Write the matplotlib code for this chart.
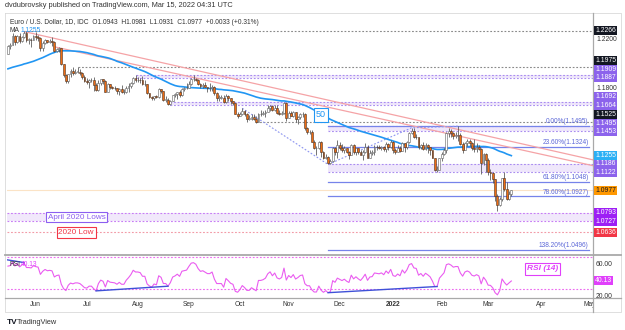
import numpy as np
import pandas as pd
import matplotlib
matplotlib.use("Agg")
import matplotlib.pyplot as plt

plt.rcParams['font.family'] = ['Liberation Sans', 'DejaVu Sans']

# daily closes 1 Mar - 13 May 2021, only used to warm up the MA(50) and RSI(14)
warmup_close = [
    1.2050, 1.2090, 1.2065, 1.1965, 1.1915,
    1.1845, 1.1900, 1.1930, 1.1985, 1.1950,
    1.1930, 1.1900, 1.1975, 1.1915, 1.1905,
    1.1935, 1.1850, 1.1815, 1.1765, 1.1795,
    1.1765, 1.1715, 1.1730, 1.1775, 1.1760,
    1.1815, 1.1875, 1.1870, 1.1915, 1.1900,
    1.1910, 1.1945, 1.1980, 1.1965, 1.1985,
    1.2035, 1.2035, 1.2035, 1.2015, 1.2095,
    1.2080, 1.2090, 1.2125, 1.2125, 1.2020,
    1.2060, 1.2015, 1.2005, 1.2065, 1.2165,
    1.2150, 1.2225, 1.2075, 1.2080,
]

# visible daily candles, 14 May 2021 - 15 Mar 2022 (one row per week)
high = [
    1.2155,
    1.2167, 1.2245, 1.2232, 1.2236, 1.2246,
    1.2226, 1.2266, 1.2262, 1.2208, 1.2207,
    1.2230, 1.2254, 1.2230, 1.2215, 1.2185,
    1.2197, 1.2192, 1.2199, 1.2218, 1.2180,
    1.2131, 1.2136, 1.2131, 1.2000, 1.1920,
    1.1920, 1.1955, 1.1973, 1.1954, 1.1975,
    1.1960, 1.1930, 1.1907, 1.1885, 1.1875,
    1.1882, 1.1895, 1.1844, 1.1868, 1.1880,
    1.1880, 1.1872, 1.1848, 1.1839, 1.1823,
    1.1823, 1.1806, 1.1806, 1.1829, 1.1794,
    1.1818, 1.1842, 1.1850, 1.1896, 1.1909,
    1.1893, 1.1882, 1.1900, 1.1865, 1.1838,
    1.1767, 1.1743, 1.1740, 1.1751, 1.1800,
    1.1797, 1.1782, 1.1743, 1.1720, 1.1705,
    1.1750, 1.1763, 1.1772, 1.1785, 1.1800,
    1.1810, 1.1846, 1.1857, 1.1884, 1.1909,
    1.1883, 1.1873, 1.1845, 1.1845, 1.1849,
    1.1815, 1.1845, 1.1830, 1.1820, 1.1775,
    1.1750, 1.1749, 1.1750, 1.1752, 1.1745,
    1.1725, 1.1700, 1.1686, 1.1612, 1.1610,
    1.1640, 1.1622, 1.1600, 1.1584, 1.1592,
    1.1594, 1.1575, 1.1600, 1.1624, 1.1620,
    1.1624, 1.1669, 1.1667, 1.1666, 1.1665,
    1.1665, 1.1625, 1.1621, 1.1692, 1.1692,
    1.1616, 1.1614, 1.1616, 1.1607, 1.1577,
    1.1598, 1.1609, 1.1598, 1.1486, 1.1464,
    1.1464, 1.1386, 1.1339, 1.1374, 1.1375,
    1.1298, 1.1273, 1.1253, 1.1230, 1.1325,
    1.1330, 1.1383, 1.1368, 1.1350, 1.1334,
    1.1319, 1.1298, 1.1353, 1.1355, 1.1320,
    1.1318, 1.1302, 1.1300, 1.1361, 1.1345,
    1.1305, 1.1303, 1.1345, 1.1340, 1.1340,
    1.1336, 1.1334, 1.1366, 1.1360, 1.1386,
    1.1377, 1.1321, 1.1346, 1.1332, 1.1365,
    1.1360, 1.1375, 1.1446, 1.1482, 1.1482,
    1.1434, 1.1410, 1.1350, 1.1370, 1.1363,
    1.1348, 1.1325, 1.1305, 1.1240, 1.1175,
    1.1241, 1.1283, 1.1315, 1.1450, 1.1483,
    1.1469, 1.1445, 1.1449, 1.1495, 1.1440,
    1.1366, 1.1368, 1.1395, 1.1388, 1.1366,
    1.1395, 1.1359, 1.1345, 1.1315, 1.1275,
    1.1277, 1.1235, 1.1152, 1.1124, 1.1070,
    1.0945, 1.0925, 1.1077, 1.1121, 1.1044,
    1.0975, 1.0981,
]
low = [
    1.2077,
    1.2118, 1.2150, 1.2152, 1.2171, 1.2164,
    1.2177, 1.2212, 1.2177, 1.2160, 1.2133,
    1.2188, 1.2195, 1.2184, 1.2104, 1.2103,
    1.2159, 1.2165, 1.2168, 1.2144, 1.2093,
    1.2092, 1.2093, 1.1990, 1.1892, 1.1847,
    1.1847, 1.1890, 1.1912, 1.1915, 1.1922,
    1.1910, 1.1880, 1.1850, 1.1836, 1.1807,
    1.1850, 1.1782, 1.1781, 1.1782, 1.1827,
    1.1835, 1.1772, 1.1774, 1.1794, 1.1796,
    1.1786, 1.1755, 1.1751, 1.1762, 1.1756,
    1.1761, 1.1771, 1.1804, 1.1840, 1.1853,
    1.1856, 1.1846, 1.1828, 1.1823, 1.1755,
    1.1725, 1.1706, 1.1705, 1.1720, 1.1725,
    1.1760, 1.1701, 1.1692, 1.1666, 1.1664,
    1.1700, 1.1735, 1.1712, 1.1735, 1.1736,
    1.1780, 1.1795, 1.1800, 1.1827, 1.1858,
    1.1862, 1.1826, 1.1804, 1.1800, 1.1810,
    1.1770, 1.1783, 1.1783, 1.1750, 1.1700,
    1.1700, 1.1712, 1.1684, 1.1685, 1.1700,
    1.1675, 1.1668, 1.1590, 1.1563, 1.1580,
    1.1582, 1.1575, 1.1529, 1.1548, 1.1546,
    1.1546, 1.1524, 1.1525, 1.1578, 1.1584,
    1.1571, 1.1608, 1.1621, 1.1620, 1.1618,
    1.1590, 1.1586, 1.1584, 1.1591, 1.1535,
    1.1560, 1.1575, 1.1570, 1.1529, 1.1513,
    1.1555, 1.1570, 1.1468, 1.1433, 1.1432,
    1.1366, 1.1310, 1.1263, 1.1309, 1.1250,
    1.1226, 1.1226, 1.1186, 1.1186, 1.1205,
    1.1260, 1.1235, 1.1302, 1.1290, 1.1275,
    1.1275, 1.1228, 1.1260, 1.1274, 1.1264,
    1.1270, 1.1259, 1.1222, 1.1280, 1.1234,
    1.1234, 1.1261, 1.1265, 1.1299, 1.1307,
    1.1300, 1.1295, 1.1288, 1.1300, 1.1320,
    1.1280, 1.1272, 1.1285, 1.1285, 1.1292,
    1.1286, 1.1314, 1.1358, 1.1435, 1.1400,
    1.1393, 1.1311, 1.1310, 1.1300, 1.1300,
    1.1275, 1.1264, 1.1235, 1.1135, 1.1121,
    1.1140, 1.1215, 1.1262, 1.1280, 1.1410,
    1.1406, 1.1395, 1.1400, 1.1373, 1.1340,
    1.1280, 1.1300, 1.1334, 1.1335, 1.1302,
    1.1289, 1.1290, 1.1303, 1.1106, 1.1185,
    1.1125, 1.1100, 1.1060, 1.1034, 1.0887,
    1.0806, 1.0850, 1.0890, 1.0975, 1.0900,
    1.0902, 1.0931,
]
close = [
    1.2145,
    1.2155, 1.2225, 1.2175, 1.2225, 1.2180,
    1.2215, 1.2250, 1.2195, 1.2195, 1.2190,
    1.2225, 1.2215, 1.2210, 1.2125, 1.2165,
    1.2190, 1.2175, 1.2180, 1.2175, 1.2105,
    1.2120, 1.2125, 1.1995, 1.1905, 1.1860,
    1.1915, 1.1940, 1.1925, 1.1935, 1.1935,
    1.1925, 1.1895, 1.1858, 1.1850, 1.1865,
    1.1865, 1.1825, 1.1790, 1.1845, 1.1875,
    1.1860, 1.1775, 1.1835, 1.1810, 1.1805,
    1.1800, 1.1780, 1.1795, 1.1770, 1.1770,
    1.1800, 1.1820, 1.1845, 1.1885, 1.1870,
    1.1870, 1.1865, 1.1835, 1.1835, 1.1760,
    1.1735, 1.1720, 1.1740, 1.1730, 1.1795,
    1.1780, 1.1710, 1.1710, 1.1675, 1.1700,
    1.1745, 1.1755, 1.1770, 1.1750, 1.1795,
    1.1800, 1.1805, 1.1840, 1.1875, 1.1880,
    1.1870, 1.1840, 1.1820, 1.1825, 1.1815,
    1.1805, 1.1805, 1.1815, 1.1765, 1.1725,
    1.1725, 1.1725, 1.1690, 1.1740, 1.1720,
    1.1695, 1.1685, 1.1595, 1.1580, 1.1595,
    1.1620, 1.1595, 1.1555, 1.1555, 1.1570,
    1.1550, 1.1530, 1.1595, 1.1595, 1.1600,
    1.1610, 1.1640, 1.1655, 1.1625, 1.1645,
    1.1605, 1.1595, 1.1605, 1.1680, 1.1560,
    1.1605, 1.1580, 1.1610, 1.1555, 1.1570,
    1.1590, 1.1595, 1.1480, 1.1445, 1.1445,
    1.1370, 1.1320, 1.1320, 1.1370, 1.1285,
    1.1235, 1.1250, 1.1200, 1.1210, 1.1320,
    1.1290, 1.1340, 1.1320, 1.1300, 1.1315,
    1.1285, 1.1265, 1.1345, 1.1290, 1.1315,
    1.1285, 1.1260, 1.1290, 1.1330, 1.1240,
    1.1280, 1.1285, 1.1330, 1.1325, 1.1320,
    1.1330, 1.1310, 1.1350, 1.1325, 1.1370,
    1.1300, 1.1290, 1.1315, 1.1295, 1.1360,
    1.1325, 1.1365, 1.1440, 1.1455, 1.1410,
    1.1405, 1.1325, 1.1345, 1.1310, 1.1345,
    1.1325, 1.1300, 1.1240, 1.1145, 1.1145,
    1.1235, 1.1270, 1.1305, 1.1440, 1.1455,
    1.1440, 1.1415, 1.1425, 1.1425, 1.1350,
    1.1305, 1.1360, 1.1375, 1.1360, 1.1320,
    1.1310, 1.1325, 1.1310, 1.1195, 1.1270,
    1.1220, 1.1125, 1.1120, 1.1065, 1.0930,
    1.0855, 1.0905, 1.1075, 1.0985, 1.0910,
    1.0945, 1.0977,
]

# drawn support / resistance zones: top, bottom, first day
zone_top = [1.1909, 1.1692, 1.1495, 1.1186]
zone_bot = [1.1887, 1.1664, 1.1453, 1.1122]
zone_start = ["2021-07-30", "2021-08-20", "2021-11-24", "2021-11-24"]
grey_levels = [1.2266, 1.1975, 1.1525]
grey_start = ["2021-05-25", "2021-06-25", "2021-10-12"]
fib_pct = [0.0, 23.6, 61.8, 78.6, 138.2]
fib_price = [1.1495, 1.1324, 1.1048, 1.0927, 1.0496]
april_2020_lows = [1.0793, 1.0727]
low_2020 = 1.0636
last_price = 1.0977

# right scale labels (value, style)
axis_labels = [
    (1.2266, "black"), (1.1975, "black"), (1.1909, "purple"), (1.1887, "purple"),
    (1.1692, "purple"), (1.1664, "purple"), (1.1525, "black"), (1.1495, "purple"),
    (1.1453, "purple"), (1.1255, "blue"), (1.1186, "purple"), (1.1122, "purple"),
    (1.0977, "orange"), (1.0793, "violet"), (1.0727, "violet"), (1.0636, "red"),
]
scale_ticks = [1.2200, 1.1800, 1.1400, 1.1000, 1.0600]
month_names = ["Jun", "Jul", "Aug", "Sep", "Oct", "Nov", "Dec", "2022",
               "Feb", "Mar", "Apr", "May"]

# ---------------------------------------------------------------- prep
dates = pd.bdate_range("2021-05-14", "2022-03-15")
n = len(close)
assert len(dates) == n == len(high) == len(low)
pos = {d.strftime("%Y-%m-%d"): i for i, d in enumerate(dates)}
x = np.arange(n)

c = np.array(close)
o = np.array([warmup_close[-1]] + close[:-1])
h = np.array(high)
l = np.array(low)

full = pd.Series(warmup_close + close)
ma50 = full.rolling(50).mean().to_numpy()[len(warmup_close):]
delta = full.diff()
gain = delta.clip(lower=0).ewm(alpha=1 / 14, adjust=False).mean()
loss = (-delta.clip(upper=0)).ewm(alpha=1 / 14, adjust=False).mean()
rsi = (100 - 100 / (1 + gain / loss)).to_numpy()[len(warmup_close):]

W, H = 625, 330
XMIN, XMAX = -0.4, 252.2
YMIN, YMAX = 1.04619, 1.24102
P_TOP, P_BOT = 13, 254
R_TOP, R_BOT = 255, 298
RMIN, RMAX = 18.75, 72.5
L_PX, R_PX = 7, 593


def frac(x0, y0, x1, y1):
    return [x0 / W, 1 - y1 / H, (x1 - x0) / W, (y1 - y0) / H]


def price_px(p):
    return P_TOP + (YMAX - p) / (YMAX - YMIN) * (P_BOT - P_TOP)


def rsi_px(v):
    return R_TOP + (RMAX - v) / (RMAX - RMIN) * (R_BOT - R_TOP)


fig = plt.figure(figsize=(W / 100, H / 100), dpi=100)
fig.patch.set_facecolor("white")

ax = fig.add_axes(frac(L_PX, P_TOP, R_PX, P_BOT))
ax2 = fig.add_axes(frac(L_PX, R_TOP, R_PX, R_BOT))
axt = fig.add_axes(frac(L_PX, R_BOT, R_PX, 312))
for a in (ax, ax2, axt):
    a.set_xlim(XMIN, XMAX)
    a.axis("off")
ax.set_ylim(YMIN, YMAX)
ax2.set_ylim(RMIN, RMAX)
axt.set_ylim(0, 1)

DOT = (0, (1.6, 1.6))

# ---------------------------------------------------------------- price pane
ax.axhline(last_price, color="#fbe3c6", lw=0.8, zorder=1)

for top, bot, start in zip(zone_top, zone_bot, zone_start):
    i0 = pos[start]
    ax.fill_between([i0, XMAX], bot, top, color="#efe7fb", lw=0, zorder=1)
    for lv in (top, bot):
        ax.plot([i0, XMAX], [lv, lv], color="#a98cf0", lw=0.8, ls=DOT, zorder=2)

ax.fill_between([XMIN, XMAX], april_2020_lows[1], april_2020_lows[0],
                color="#f1e8fb", lw=0, zorder=1)
for lv in april_2020_lows:
    ax.axhline(lv, color="#c77cf5", lw=0.8, ls=DOT, zorder=2)
ax.axhline(low_2020, color="#f29aa6", lw=0.8, ls=DOT, zorder=2)

for lv, start in zip(grey_levels, grey_start):
    ax.plot([pos[start], XMAX], [lv, lv], color="#8a8a8a", lw=0.8, ls=DOT, zorder=2)

fib_x0 = pos["2021-11-24"]
for pct, lv in zip(fib_pct, fib_price):
    ax.plot([fib_x0, 250.3], [lv, lv], color="#7683ea", lw=0.9, zorder=2)
    ax.text(250.3, lv + 0.0007, f"{pct:.2f}%({lv:.4f})", fontsize=4.7,
            color="#5b67d8", ha="right", va="bottom", zorder=6)

# descending resistance lines
ax.plot([7, 252.2], [1.2260, 1.1223], color="#f5a3a6", lw=0.9, zorder=2)
ax.plot([20.5, 252.2], [1.2135, 1.1176], color="#f5a3a6", lw=0.9, zorder=2)

# dotted swing connector
swing = ["2021-10-04", "2021-11-24", "2022-01-13", "2022-02-10"]
swing_y = [h[pos[swing[0]]], l[pos[swing[1]]], h[pos[swing[2]]], h[pos[swing[3]]]]
ax.plot([pos[s] for s in swing], swing_y, color="#8c94f0", lw=0.8, ls=DOT, zorder=2)

ax.plot(x, ma50, color="#2196f3", lw=1.2, zorder=3)

up = c >= o
body = np.maximum(np.abs(c - o), 0.00025)
ax.vlines(x, l, h, color="#505050", lw=0.55, zorder=4)
ax.bar(x[up], body[up], bottom=np.minimum(o, c)[up], width=0.8, color="white",
       edgecolor="#606060", lw=0.4, zorder=5)
ax.bar(x[~up], body[~up], bottom=np.minimum(o, c)[~up], width=0.8, color="#ee6c12",
       edgecolor="#4a3527", lw=0.4, zorder=5)

i50 = 135
ax.text(i50, ma50[i50] - 0.001, "50", fontsize=6.5, color="#2196f3", ha="center",
        va="center", zorder=7,
        bbox=dict(boxstyle="square,pad=0.25", fc="white", ec="#2196f3", lw=0.8))
ax.text(29.6, sum(april_2020_lows) / 2, "April 2020 Lows", fontsize=5.9,
        color="#8c5ff0", ha="center", va="center", zorder=7,
        bbox=dict(boxstyle="square,pad=0.22", fc="white", ec="#8c5ff0", lw=0.8))
ax.text(29.4, low_2020, "2020 Low", fontsize=5.9, color="#f23645", ha="center",
        va="center", zorder=7,
        bbox=dict(boxstyle="square,pad=0.22", fc="white", ec="#f23645", lw=0.8))

# ---------------------------------------------------------------- RSI pane
for lv in (70, 30):
    ax2.axhline(lv, color="#ec6cf0", lw=0.8, ls=DOT)
ax2.plot(x, rsi, color="#ea5cf0", lw=0.8)
for a, b in (("2021-07-07", "2021-08-19"), ("2021-11-24", "2022-01-28")):
    ax2.plot([pos[a], pos[b]], [rsi[pos[a]], rsi[pos[b]]], color="#3f51d8", lw=1.0)
ax2.plot([XMIN, 7], [66.5, 63], color="#3f51d8", lw=1.0)
ax2.text(230.5, 55, "RSI (14)", fontsize=6, color="#e040fb", style="italic",
         fontweight="bold", ha="center", va="center",
         bbox=dict(boxstyle="square,pad=0.25", fc="white", ec="#e040fb", lw=0.8))

# ---------------------------------------------------------------- time axis
month_pos = []
future = pd.bdate_range("2021-05-14", "2022-05-31")
seen = set()
for i, d in enumerate(future):
    key = (d.year, d.month)
    if key not in seen:
        seen.add(key)
        if i > 0:
            month_pos.append(i)
for i, name in zip(month_pos, month_names):
    axt.text(i, 0.5, name, fontsize=4.8, color="#333333", ha="center",
             va="center", clip_on=True,
             fontweight="bold" if name == "2022" else "normal")

# ---------------------------------------------------------------- overlay (pixels)
ov = fig.add_axes([0, 0, 1, 1])
ov.set_xlim(0, W)
ov.set_ylim(H, 0)
ov.axis("off")

ov.plot([5, 621, 621, 5, 5], [13, 13, 312, 312, 13], color="#d9d9d9", lw=0.6)
ov.plot([5, 621], [254.8, 254.8], color="#a9a9a9", lw=1.3)
ov.plot([5, 621], [298, 298], color="#a9a9a9", lw=0.9)
ov.plot([593, 593], [13, 312], color="#a9a9a9", lw=0.9)

ov.text(5, 5.5, "dvdubrovsky published on TradingView.com, Mar 15, 2022 04:31 UTC",
        fontsize=5.3, color="#333333", va="center")
ov.text(10, 22.5, "Euro / U.S. Dollar, 1D, IDC  O1.0943  H1.0981  L1.0931  "
        "C1.0977  +0.0033 (+0.31%)", fontsize=4.8, color="#333333", va="center")
ov.text(10, 31, "MA", fontsize=4.8, color="#333333", va="center")
ov.text(21, 31, "1.1255", fontsize=4.8, color="#2196f3", va="center")
ov.text(10, 264, "RSI", fontsize=4.8, color="#333333", va="center")
ov.text(20.5, 264, "40.13", fontsize=4.8, color="#e040fb", va="center")

# stack the boxed labels upwards so they do not cover each other
label_y = []
prev = None
for val, kind in sorted(axis_labels, key=lambda t: t[0]):
    y = price_px(val)
    if prev is not None:
        y = min(y, prev - 8.4)
    prev = y
    label_y.append((val, kind, y))

for t in scale_ticks:
    ty = price_px(t)
    if all(abs(ty - y) > 8 for _, _, y in label_y):
        ov.text(596, ty, f"{t:.4f}", fontsize=4.9, color="#333333", va="center")

styles = {"black": ("#131722", "white"), "purple": ("#8c63ec", "white"),
          "blue": ("#2ab0f5", "white"), "orange": ("#ff9800", "#131722"),
          "violet": ("#9d1ff5", "white"), "red": ("#f23645", "white")}
for val, kind, y in label_y:
    fc, tc = styles[kind]
    ov.text(595.3, y, f"{val:.4f}", fontsize=4.9, color=tc, va="center",
            bbox=dict(boxstyle="square,pad=0.14", fc=fc, ec="none"))

ov.text(596, rsi_px(60), "60.00", fontsize=4.9, color="#333333", va="center")
ov.text(596, rsi_px(20) - 1, "20.00", fontsize=4.9, color="#333333", va="center")
ov.text(595.3, rsi_px(40.13), "40.13", fontsize=4.9, color="white", va="center",
        bbox=dict(boxstyle="square,pad=0.14", fc="#e040fb", ec="none"))

ov.text(7, 322, "TV", fontsize=6, fontweight="bold", color="#131722", va="center")
ov.text(17, 322, "TradingView", fontsize=5.3, color="#333333", va="center")

fig.savefig("out.png", dpi=100)
